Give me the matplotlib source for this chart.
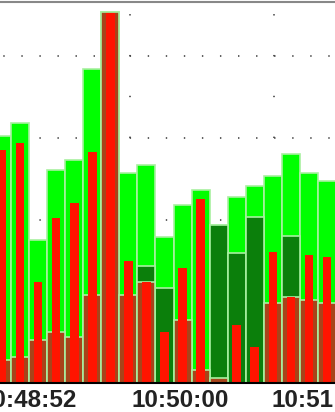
import numpy as np
import matplotlib
matplotlib.use("Agg")
import matplotlib.pyplot as plt

# bar slots; slot -1 is the one cut off at the left edge
slots = np.arange(-1, 18)

# volumes per slot
total = [302, 319, 175, 261, 273, 385, 455, 257, 267, 179,
         218, 236, 194, 228, 241, 254, 280, 257, 248]
dark_green = [0, 0, 0, 0, 0, 0, 0, 0, 143, 116,
              0, 0, 194, 159, 203, 0, 180, 0, 0]
dark_red = [28, 32, 53, 62, 56, 108, 455, 108, 124, 0,
            77, 16, 6, 0, 0, 98, 105, 102, 98]
red = [285, 294, 124, 202, 220, 283, 453, 150, 124, 62,
       141, 225, 0, 71, 44, 160, 105, 157, 154]

tick_pos = [0.45, 8.86, 16.6]
tick_labels = ["10:48:52", "10:50:00", "10:51:08"]
grid_pos = [6.09, 14.06]

plt.rcParams["lines.scale_dashes"] = False

fig = plt.figure(figsize=(3.35, 4.12), dpi=100)
ax = fig.add_axes([0, 29 / 412, 1, 381.5 / 412])

edge = "#a8f0a0"
ax.bar(slots, total, width=1.0, color="#00ff00", edgecolor=edge, linewidth=1.2)
ax.bar(slots, dark_green, width=1.0, color="#0b7f0b", edgecolor=edge, linewidth=1.2)
ax.bar(slots, dark_red, width=1.0, color="#a8441a", edgecolor=edge, linewidth=1.2)
ax.bar(slots, red, width=0.48, color="#ff1400", linewidth=0)

ax.set_xlim(-1.107, 17.44)
ax.set_ylim(0, 467.3)
ax.set_yticks([100, 200, 300, 400])
ax.set_xticks(tick_pos)
ax.set_xticklabels(tick_labels, fontfamily="Liberation Sans", fontweight="bold",
                   fontsize=17.5, color="#222222")
ax.set_xticks(grid_pos, minor=True)
ax.tick_params(axis="both", which="both", length=0)
ax.tick_params(axis="x", pad=4.5)
ax.tick_params(axis="y", labelleft=False)

ax.set_axisbelow(True)
ax.yaxis.grid(True, color="#444444", linewidth=1.2, linestyle=(10.63, (1.0, 12.0)))
ax.xaxis.grid(True, which="minor", color="#444444", linewidth=1.2,
              linestyle=(0, (1.0, 28.4)))
ax.xaxis.grid(False, which="major")

for side in ["left", "right"]:
    ax.spines[side].set_visible(False)
ax.spines["top"].set_color("#888888")
ax.spines["top"].set_linewidth(1.5)
ax.spines["bottom"].set_color("black")
ax.spines["bottom"].set_linewidth(1.5)

fig.savefig("out.png", dpi=100)
